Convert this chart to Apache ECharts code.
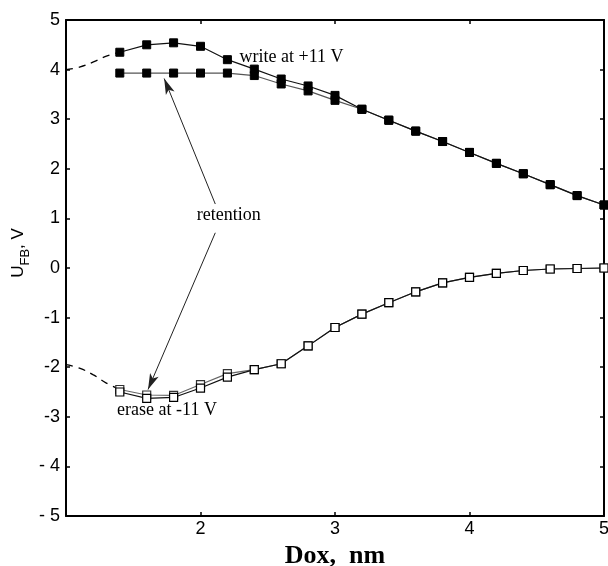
<!DOCTYPE html>
<html>
<head>
<meta charset="utf-8">
<script src="https://cdn.jsdelivr.net/npm/echarts@6/dist/echarts.min.js"></script>
<style>
  html, body { margin: 0; padding: 0; background: #fff; }
  #chart { width: 608px; height: 566px; }
</style>
</head>
<body>
<div id="chart"></div>
<script>
// Dox (nm) where points were measured
const dox = [1.4, 1.6, 1.8, 2.0, 2.2, 2.4, 2.6, 2.8, 3.0, 3.2, 3.4, 3.6, 3.8, 4.0, 4.2, 4.4, 4.6, 4.8, 5.0];
// flat-band voltage, V
const writeInit = [4.35, 4.50, 4.54, 4.47, 4.20, 4.01, 3.81, 3.67, 3.48, 3.20, 2.98, 2.76, 2.55, 2.33, 2.11, 1.90, 1.68, 1.46, 1.27];
const writeRet  = [3.93, 3.93, 3.93, 3.93, 3.93, 3.88, 3.71, 3.57, 3.38, 3.20, 2.98, 2.76, 2.55, 2.33, 2.11, 1.90, 1.68, 1.46, 1.27];
const eraseInit = [-2.50, -2.63, -2.61, -2.42, -2.20, -2.05, -1.93, -1.57, -1.20, -0.93, -0.70, -0.48, -0.30, -0.19, -0.11, -0.05, -0.02, -0.01, 0.0];
const eraseRet  = [-2.45, -2.56, -2.57, -2.35, -2.13, -2.05, -1.93, -1.57, -1.20, -0.93, -0.70, -0.48, -0.30, -0.19, -0.11, -0.05, -0.02, -0.01, 0.0];
// dashed extrapolation toward thin oxide
const dashX     = [1.0, 1.1, 1.2, 1.3, 1.4];
const dashWrite = [4.00, 4.05, 4.15, 4.27, 4.35];
const dashErase = [-1.95, -2.02, -2.15, -2.32, -2.45];

const xTicks = [1, 2, 3, 4, 5];
const yTicks = [-5, -4, -3, -2, -1, 0, 1, 2, 3, 4, 5];

function pairs(xv, yv) {
  return xv.map(function (x, i) { return [x, yv[i]]; });
}

const serif = 'Liberation Serif';
const sans = 'Liberation Sans';

const chart = echarts.init(document.getElementById('chart'));

const frameAxis = {
  axisLine: { show: true, onZero: false, lineStyle: { color: '#000', width: 2 } },
  axisTick: { show: true, inside: true, length: 4, lineStyle: { color: '#000', width: 1.5 } },
  splitLine: { show: false }
};

const options = {
  animation: false,
  backgroundColor: '#fff',
  grid: { left: 66, right: 4, top: 20, bottom: 50, outerBoundsMode: 'none', containLabel: false },
  xAxis: [
    Object.assign({
      type: 'value', min: xTicks[0], max: xTicks[xTicks.length - 1], interval: 1,
      position: 'bottom',
      name: 'Dox,  nm', nameLocation: 'middle', nameGap: 21,
      nameTextStyle: { fontFamily: serif, fontWeight: 'bold', fontSize: 26, color: '#000' },
      axisLabel: { showMinLabel: false, fontFamily: sans, fontSize: 18, color: '#000', margin: 4 }
    }, frameAxis),
    Object.assign({
      type: 'value', min: xTicks[0], max: xTicks[xTicks.length - 1], interval: 1,
      position: 'top', axisLabel: { show: false }
    }, frameAxis)
  ],
  yAxis: [
    Object.assign({
      type: 'value', min: yTicks[0], max: yTicks[yTicks.length - 1], interval: 1,
      position: 'left',
      name: '{a|U}{b|FB}{a|, V}', nameLocation: 'middle', nameGap: 39, nameRotate: 90,
      nameMoveOverlap: false,
      nameTextStyle: {
        padding: [0, 0, 0, 30],
        rich: {
          a: { fontFamily: sans, fontSize: 17, color: '#000', lineHeight: 22, verticalAlign: 'bottom' },
          b: { fontFamily: sans, fontSize: 13, color: '#000', lineHeight: 22, verticalAlign: 'bottom', padding: [0, 0, -5, 0] }
        }
      },
      axisLabel: {
        fontFamily: sans, fontSize: 18, color: '#000', margin: 6,
        formatter: function (v) {
          if (v <= -4) return '- ' + Math.abs(v);
          if (v < 0) return '-' + Math.abs(v);
          return String(v);
        }
      }
    }, frameAxis),
    Object.assign({
      type: 'value', min: yTicks[0], max: yTicks[yTicks.length - 1], interval: 1,
      position: 'right', axisLabel: { show: false }
    }, frameAxis)
  ],
  series: [
    {
      name: 'write dashed', type: 'line', smooth: true, symbol: 'none',
      data: pairs(dashX, dashWrite),
      lineStyle: { color: '#000', width: 1.3, type: [7, 6] }
    },
    {
      name: 'erase dashed', type: 'line', smooth: true, symbol: 'none',
      data: pairs(dashX, dashErase),
      lineStyle: { color: '#000', width: 1.3, type: [7, 6] }
    },
    {
      name: 'write retention', type: 'line', symbol: 'rect', symbolSize: 8,
      data: pairs(dox, writeRet),
      lineStyle: { color: '#555', width: 1.2 },
      itemStyle: { color: '#000', borderColor: '#000' }
    },
    {
      name: 'write', type: 'line', symbol: 'rect', symbolSize: 8,
      data: pairs(dox, writeInit),
      lineStyle: { color: '#111', width: 1.2 },
      itemStyle: { color: '#000', borderColor: '#000' }
    },
    {
      name: 'erase retention', type: 'line', symbol: 'rect', symbolSize: 8,
      data: pairs(dox, eraseRet),
      lineStyle: { color: '#666', width: 1.2 },
      itemStyle: { color: '#fff', borderColor: '#333', borderWidth: 1.2 }
    },
    {
      name: 'erase', type: 'line', symbol: 'rect', symbolSize: 8,
      data: pairs(dox, eraseInit),
      lineStyle: { color: '#111', width: 1.2 },
      itemStyle: { color: '#fff', borderColor: '#000', borderWidth: 1.2 },
      markPoint: {
        silent: true, symbol: 'circle', symbolSize: 0,
        label: { show: true, color: '#000', fontFamily: serif, fontSize: 18 },
        data: [
          { coord: [2.29, 4.24], label: { position: 'right', distance: 0, formatter: 'write at +11 V' } },
          { coord: [2.21, 1.06], label: { position: 'inside', formatter: 'retention' } },
          { coord: [1.38, -2.86], label: { position: 'right', distance: 0, formatter: 'erase at -11 V' } }
        ]
      },
      markLine: {
        silent: true, symbol: ['none', 'arrow'], symbolSize: [7, 16],
        label: { show: false },
        lineStyle: { color: '#222', width: 1, type: 'solid' },
        data: [
          [{ coord: [2.11, 1.29] }, { coord: [1.73, 3.82] }],
          [{ coord: [2.11, 0.71] }, { coord: [1.61, -2.45] }]
        ]
      }
    }
  ]
};

chart.setOption(options);
window.addEventListener('resize', function () {
  chart.resize();
});
</script>
</body>
</html>
